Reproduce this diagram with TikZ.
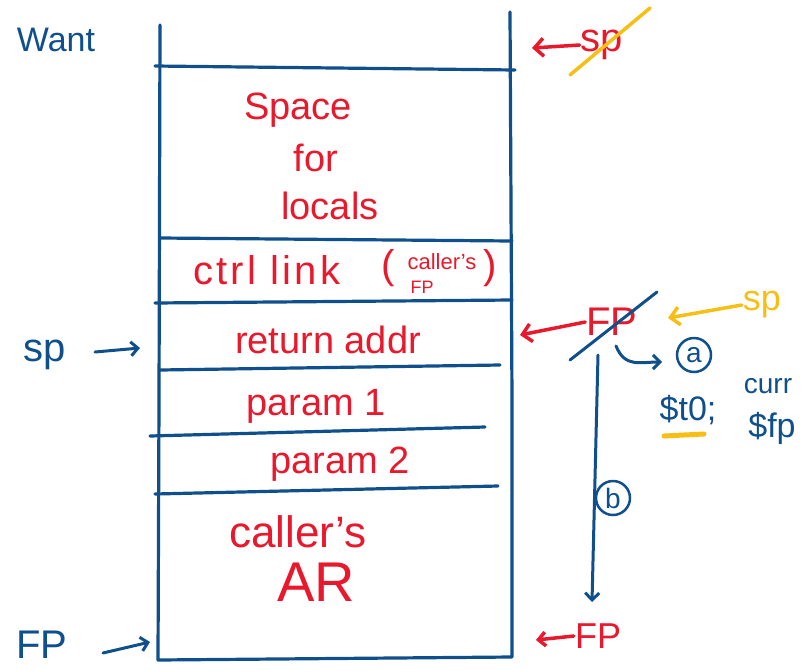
\documentclass[tikz,border=0pt]{standalone}
\usepackage{fontspec}
\setmainfont{Liberation Sans}
\usetikzlibrary{arrows.meta}
\definecolor{inkblue}{HTML}{0F4F8C}
\definecolor{inkred}{HTML}{E8192C}
\definecolor{inkyellow}{HTML}{F7BE16}
\tikzset{
  wall/.style={inkblue, line width=3.2pt, line cap=round, line join=round},
  redtxt/.style={text=inkred, font=\fontsize{38}{40}\selectfont, inner sep=1pt},
  bluetxt/.style={text=inkblue, font=\fontsize{40}{42}\selectfont, inner sep=1pt},
  yeltxt/.style={text=inkyellow, font=\fontsize{36}{38}\selectfont, inner sep=1pt},
  redarrow/.style={inkred, line width=3.5pt, line cap=round, -{Straight Barb[length=9pt,width=18pt]}},
  bluearrow/.style={inkblue, line width=3pt, line cap=round, -{Straight Barb[length=7pt,width=14pt]}},
  yelarrow/.style={inkyellow, line width=3.5pt, line cap=round, -{Straight Barb[length=9pt,width=18pt]}},
  circ/.style={circle, draw=inkblue, line width=2.5pt, text=inkblue, font=\fontsize{28}{30}\selectfont, inner sep=2pt, minimum width=34pt},
}
\begin{document}
\begin{tikzpicture}[x=1pt,y=-1pt]
\useasboundingbox (0,0) rectangle (811,670);
% stack outline
\coordinate (tl) at (160,25);
\coordinate (tr) at (510,12);
\coordinate (bl) at (158,660);
\coordinate (br) at (512,657);
\draw[wall] (tl) -- (159,400) -- (bl) -- (br) -- (512,400) -- (tr);
% separators
\draw[wall] (155,66) -- (515,70);
\draw[wall] (160,238) -- (512,241);
\draw[wall] (155,303) -- (512,300);
\draw[wall] (160,370) -- (500,365);
\draw[wall] (150,436) -- (485,427);
\draw[wall] (155,494) -- (498,486);
% cell texts
\node[redtxt] (space) at (298,110) {Space};
\node[redtxt] (for) at (316,158) {for};
\node[redtxt] (locals) at (330,206) {locals};
\node[redtxt, font=\fontsize{40}{42}\selectfont\addfontfeature{LetterSpace=8}, anchor=west] (ctrl) at (192,270) {ctrl link};
\node[redtxt, font=\fontsize{40}{42}\selectfont] (lparen) at (388,268) {(};
\node[text=inkred, font=\fontsize{22}{24}\selectfont, inner sep=0pt] (callers) at (442,262) {caller's};
\node[text=inkred, font=\fontsize{18}{20}\selectfont, inner sep=0pt] (fpsmall) at (422,287) {FP};
\node[redtxt, font=\fontsize{40}{42}\selectfont] (rparen) at (490,268) {)};
\node[redtxt] (ret) at (328,340) {return addr};
\node[redtxt] (p1) at (316,406) {param 1};
\node[redtxt] (p2) at (340,464) {param 2};
\node[redtxt, font=\fontsize{44}{46}\selectfont] (callersar) at (298,532) {caller's};
\node[text=inkred, font=\fontsize{56}{58}\selectfont, inner sep=1pt] (ar) at (316,582) {AR};
% left labels
\node[bluetxt, font=\fontsize{34}{36}\selectfont] (want) at (56,40) {Want};
\node[bluetxt] (spl) at (45,355) {sp};
\coordinate (splend) at (140,348);
\draw[bluearrow] (95,352) -- (splend);
\node[bluetxt] (fpl) at (42,645) {FP};
\coordinate (fplend) at (150,642);
\draw[bluearrow] (103,653) -- (fplend);
% top right sp (struck)
\node[redtxt, font=\fontsize{40}{42}\selectfont] (sptop) at (602,45) {sp};
\coordinate (sptopend) at (532,48);
\draw[redarrow] (sptop.west) -- (sptopend);
\draw[inkyellow, line width=3.5pt, line cap=round] (570,75) -- (650,8);
% FP at return addr (struck)
\node[redtxt, font=\fontsize{40}{42}\selectfont] (fpmid) at (612,322) {FP};
\coordinate (fpmidend) at (520,335);
\draw[redarrow] (fpmid.west) -- (fpmidend);
\draw[inkblue, line width=3pt, line cap=round] (570,360) -- (657,292);
% yellow sp
\node[yeltxt] (spy) at (762,305) {sp};
\coordinate (spyend) at (668,318);
\draw[yelarrow] (spy.west) -- (spyend);
% (a)
\node[circ] (ca) at (694,355) {a};
\coordinate (astart) at (616,346);
\draw[bluearrow] (astart) .. controls (625,368) and (640,362) .. (662,362);
\node[bluetxt, font=\fontsize{34}{36}\selectfont] (t0) at (688,410) {\$t0;};
\draw[inkyellow, line width=5pt, line cap=round] (664,436) -- (704,434);
\node[bluetxt, font=\fontsize{28}{30}\selectfont] (curr) at (768,386) {curr};
\node[bluetxt, font=\fontsize{34}{36}\selectfont] (fpcur) at (772,428) {\$fp};
% (b)
\coordinate (bstart) at (598,355);
\coordinate (bend) at (592,602);
\draw[bluearrow] (bstart) -- (bend);
\node[circ, fill=white] (cb) at (613,498) {b};
% bottom right FP
\node[redtxt, font=\fontsize{36}{38}\selectfont] (fpbot) at (598,636) {FP};
\coordinate (fpbotend) at (536,640);
\draw[redarrow, -{Straight Barb[length=7pt,width=14pt]}] (fpbot.west) -- (fpbotend);
\end{tikzpicture}
\end{document}
